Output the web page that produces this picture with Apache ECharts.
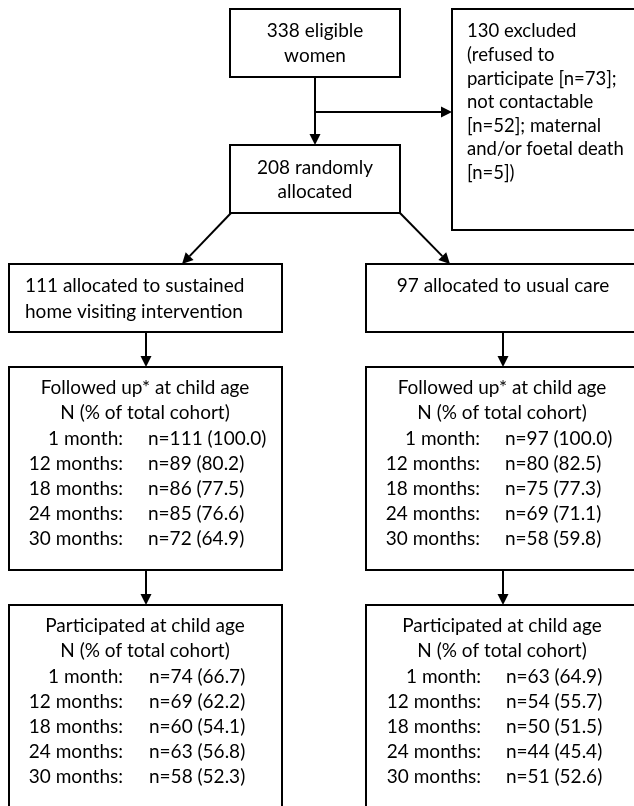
<!DOCTYPE html>
<html>
<head>
<meta charset="utf-8">
<script src="https://cdn.jsdelivr.net/npm/echarts@6/dist/echarts.min.js"></script>
<style>
html,body{margin:0;padding:0;background:#fff;}
#chart{width:634px;height:806px;}
</style>
</head>
<body>
<div id="chart"></div>
<script>
// ---- Data ----
const eligibleN = 338;
const excludedN = 130;
const refusedN = 73;
const notContactableN = 52;
const deathN = 5;
const randomisedN = 208;
const interventionN = 111;
const usualCareN = 97;
const timepoints = ['1 month:', '12 months:', '18 months:', '24 months:', '30 months:'];
const interventionFollowN = [111, 89, 86, 85, 72];
const interventionFollowPct = [100.0, 80.2, 77.5, 76.6, 64.9];
const usualFollowN = [97, 80, 75, 69, 58];
const usualFollowPct = [100.0, 82.5, 77.3, 71.1, 59.8];
const interventionPartN = [74, 69, 60, 63, 58];
const interventionPartPct = [66.7, 62.2, 54.1, 56.8, 52.3];
const usualPartN = [63, 54, 50, 44, 51];
const usualPartPct = [64.9, 55.7, 51.5, 45.4, 52.6];

// ---- Layout (diagram space, pixels of a 634x806 page) ----
const boxes = [
  [230, 9, 400, 77],
  [452, 9, 645, 230],
  [230, 145, 400, 213],
  [9, 264, 282, 332],
  [366, 264, 645, 332],
  [9, 367, 282, 570],
  [366, 367, 645, 570],
  [9, 605, 282, 830],
  [366, 605, 645, 830]
];
const arrows = [
  [315, 77, 315, 145],
  [315, 112, 452, 112],
  [231, 213, 182, 264],
  [400, 213, 450, 264],
  [146, 332, 146, 367],
  [503, 332, 503, 367],
  [146, 570, 146, 605],
  [503, 570, 503, 605]
];

const texts = [];
function T(x, y, s, align) { texts.push({x: x, y: y, s: s, align: align || 'center'}); }
T(315, 31, eligibleN + ' eligible');
T(315, 56, 'women');
const exLines = [excludedN + ' excluded', '(refused to', 'participate [n=' + refusedN + '];',
  'not contactable', '[n=' + notContactableN + ']; maternal', 'and/or foetal death', '[n=' + deathN + '])'];
const exY = [31, 55, 79, 102, 126, 149, 173];
exLines.forEach((s, i) => T(467, exY[i], s, 'left'));
T(315, 168, randomisedN + ' randomly');
T(315, 192, 'allocated');
T(25, 286, interventionN + ' allocated to sustained', 'left');
T(25, 312, 'home visiting intervention', 'left');
T(503, 286, usualCareN + ' allocated to usual care');

function block(cx, labRight, valLeft, y0, title, ns, pcts) {
  T(cx, y0, title);
  T(cx, y0 + 25, 'N (% of total cohort)');
  timepoints.forEach((tp, i) => {
    const y = y0 + 51 + i * 25;
    T(labRight, y, tp, 'right');
    T(valLeft, y, 'n=' + ns[i] + ' (' + pcts[i].toFixed(1) + ')', 'left');
  });
}
block(145, 123, 148, 388, 'Followed up* at child age', interventionFollowN, interventionFollowPct);
block(502, 480, 505, 388, 'Followed up* at child age', usualFollowN, usualFollowPct);
block(145, 123, 149, 626, 'Participated at child age', interventionPartN, interventionPartPct);
block(502, 481, 506, 626, 'Participated at child age', usualPartN, usualPartPct);

const FONT = '19px Lato';
const FONT_EX = '18.5px Lato';
const chart = echarts.init(document.getElementById('chart'), null, {renderer: 'canvas'});
chart.setOption({
  animation: false,
  backgroundColor: '#fff',
  grid: {left: 0, right: 0, top: 0, bottom: 0},
  xAxis: {type: 'value', min: 0, max: 634, show: false},
  yAxis: {type: 'value', min: 0, max: 806, inverse: true, show: false},
  series: [
    {
      type: 'custom', clip: false,
      data: boxes.map(b => [b[0], b[1], b[2], b[3]]),
      renderItem: function (params, api) {
        const p1 = api.coord([api.value(0), api.value(1)]);
        const p2 = api.coord([api.value(2), api.value(3)]);
        return {type: 'rect', shape: {x: p1[0], y: p1[1], width: p2[0] - p1[0], height: p2[1] - p1[1]},
          style: {fill: '#fff', stroke: '#000', lineWidth: 2}};
      }
    },
    {
      type: 'custom', clip: false,
      data: arrows.map(a => [a[0], a[1], a[2], a[3]]),
      renderItem: function (params, api) {
        const p1 = api.coord([api.value(0), api.value(1)]);
        const p2 = api.coord([api.value(2), api.value(3)]);
        const dx = p2[0] - p1[0], dy = p2[1] - p1[1];
        const len = Math.sqrt(dx * dx + dy * dy);
        const ux = dx / len, uy = dy / len;
        const hl = 11, hw = 5.5;
        const bx = p2[0] - ux * hl, by = p2[1] - uy * hl;
        return {type: 'group', children: [
          {type: 'line', shape: {x1: p1[0], y1: p1[1], x2: bx, y2: by}, style: {stroke: '#000', lineWidth: 2}},
          {type: 'polygon', shape: {points: [[p2[0], p2[1]], [bx - uy * hw, by + ux * hw], [bx + uy * hw, by - ux * hw]]},
            style: {fill: '#000'}}
        ]};
      }
    },
    {
      type: 'custom', clip: false,
      data: texts.map(t => [t.x, t.y]),
      renderItem: function (params, api) {
        const t = texts[params.dataIndex];
        const p = api.coord([api.value(0), api.value(1)]);
        return {type: 'text', x: p[0], y: p[1],
          style: {text: t.s, fill: '#000', font: (t.x === 467 ? FONT_EX : FONT), align: t.align, verticalAlign: 'middle'}};
      }
    }
  ]
});
</script>
</body>
</html>
